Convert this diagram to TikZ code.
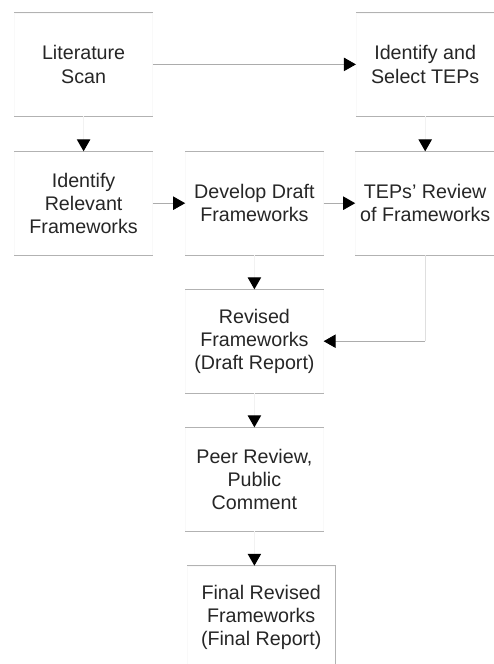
\documentclass[tikz,border=0pt]{standalone}
\usepackage{fontspec}
\setmainfont{Liberation Sans}
\usetikzlibrary{arrows.meta}

\begin{document}
\begin{tikzpicture}[>={Triangle[width=9.5pt,length=8.5pt,color=black]},
    stage/.style={draw=gray!5, minimum width=3.45cm, minimum height=2.58cm,
                  align=center, font=\fontsize{14}{16.5}\selectfont, text=black!85},
    rule/.style={draw=gray!60, line width=0.8pt},
    flow/.style={->, draw=gray!65, line width=0.6pt},
    vflow/.style={->, draw=gray!10, line width=0.8pt}]

  \useasboundingbox (0,0) rectangle (12.325,-16.6);

  % ---- top row
  \node[stage] (lit) at (2.09,-1.61)  {Literature\\Scan};
  \node[stage] (sel) at (10.63,-1.61) {Identify and\\Select TEPs};

  % ---- second row
  \node[stage] (rel) at (2.09,-5.08)  {Identify\\Relevant\\Frameworks};
  \node[stage] (dev) at (6.36,-5.08)  {Develop Draft\\Frameworks};
  \node[stage] (tep) at (10.63,-5.08) {TEPs' Review\\of Frameworks};

  % ---- the column down the middle
  \node[stage] (drf)  at (6.36,-8.53)  {Revised\\Frameworks\\(Draft Report)};
  \node[stage] (peer) at (6.36,-11.98) {Peer Review,\\Public\\Comment};
  \node[stage, minimum width=3.7cm] (fin) at (6.53,-15.44)
    {Final Revised\\Frameworks\\(Final Report)};

  % ---- rules above and below each box
  \foreach \b in {lit,sel,rel,dev,tep,drf,peer}
    \draw[rule] (\b.north west) -- (\b.north east)
                (\b.south west) -- (\b.south east);
  \draw[rule] (fin.north west) -- (fin.north east) -- (fin.south east);

  % ---- connectors
  \draw[flow]  (lit) -- (sel);
  \draw[vflow] (lit) -- (rel);
  \draw[vflow] (sel) -- (tep);
  \draw[flow]  (rel) -- (dev);
  \draw[flow]  (dev) -- (tep);
  \draw[vflow] (dev) -- (drf);
  \coordinate (bend) at (tep.south |- drf.east);
  \draw[draw=gray!25, line width=0.6pt] (tep.south) -- (bend);
  \draw[flow]  (bend) -- (drf.east);
  \draw[vflow] (drf) -- (peer);
  \draw[vflow] (peer) -- (peer |- fin.north);
\end{tikzpicture}
\end{document}
